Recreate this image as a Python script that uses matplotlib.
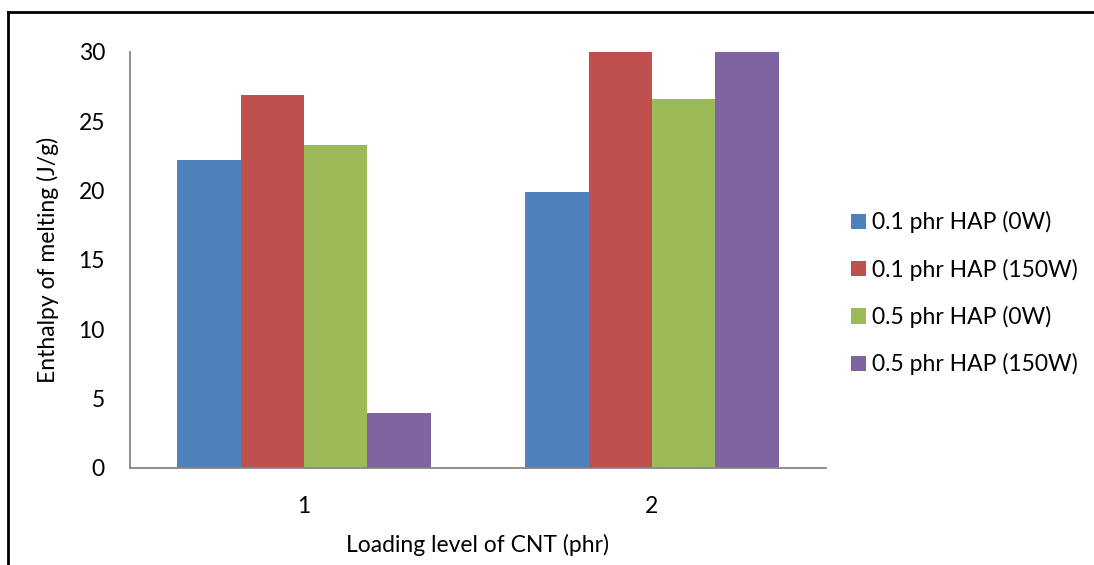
import numpy as np
import matplotlib
matplotlib.use("Agg")
import matplotlib.pyplot as plt
from matplotlib.lines import Line2D

plt.rcParams['font.family'] = ['Lato', 'DejaVu Sans']

categories = ['1', '2']
series_names = ['0.1 phr HAP (0W)', '0.1 phr HAP (150W)',
                '0.5 phr HAP (0W)', '0.5 phr HAP (150W)']
series_values = [
    [22.2, 19.9],
    [26.9, 30.0],
    [23.3, 26.6],
    [4.0, 30.0],
]
colors = ['#4F81BD', '#C0504D', '#9BBB59', '#8064A2']
fs = 16.5

fig = plt.figure(figsize=(10.94, 5.65), dpi=100)
ax = fig.add_axes([0.1188, 0.1717, 0.6362, 0.7363])

x = np.arange(len(categories))
width = 0.182
for i, (name, vals) in enumerate(zip(series_names, series_values)):
    offs = (i - 1.5) * width
    ax.bar(x + offs, vals, width, color=colors[i], label=name)

ax.set_xlim(-0.5, 1.5)
ax.set_ylim(0, 30)
ax.set_yticks(range(0, 31, 5))
ax.set_xticks(x)
ax.set_xticklabels(categories)
ax.tick_params(axis='both', length=0, labelsize=fs)
ax.tick_params(axis='y', pad=18)
ax.tick_params(axis='x', pad=20)
for side in ['top', 'right']:
    ax.spines[side].set_visible(False)
for side in ['left', 'bottom']:
    ax.spines[side].set_color('#868686')
    ax.spines[side].set_linewidth(1.3)

ax.set_ylabel('Enthalpy of melting (J/g)', fontsize=fs, labelpad=14)
ax.set_xlabel('Loading level of CNT (phr)', fontsize=fs, labelpad=12)

leg = ax.legend(loc='center left', bbox_to_anchor=(1.02, 0.42), frameon=False,
                fontsize=fs, handlelength=0.65, handleheight=0.65, borderpad=0,
                handletextpad=0.27, labelspacing=1.1)

# outer frame (left and top only, as in the source image)
fig.add_artist(Line2D([0.0075, 0.0075], [0, 0.979], transform=fig.transFigure,
                      color='black', linewidth=2))
fig.add_artist(Line2D([0.0075, 1.0], [0.979, 0.979], transform=fig.transFigure,
                      color='black', linewidth=2))

fig.savefig('out.png', dpi=100)
